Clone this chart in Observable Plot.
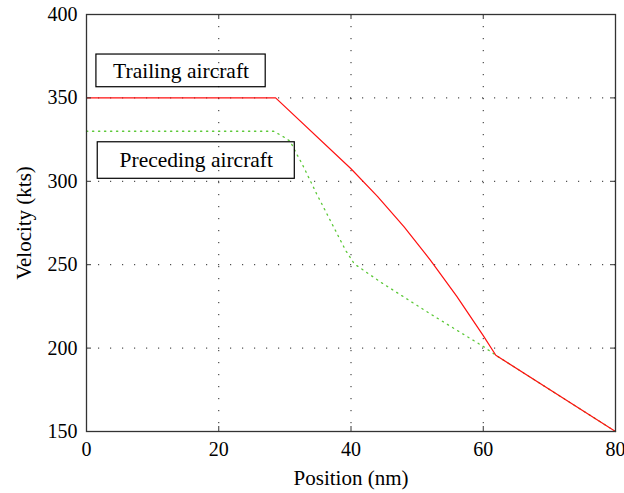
<!DOCTYPE html>
<html>
<head>
<meta charset="utf-8">
<script src="https://cdn.jsdelivr.net/npm/d3@7"></script>
<script src="https://cdn.jsdelivr.net/npm/@observablehq/plot@0.6"></script>
<style>
  html, body { margin: 0; padding: 0; background: #fff; }
</style>
</head>
<body>
<div id="chart"></div>
<script>
// Tick values
const xTicks = [0, 20, 40, 60, 80];
const yTicks = [150, 200, 250, 300, 350, 400];

// Trailing aircraft (red solid)
const trailingPos = [0, 28.6, 40, 44, 48, 52, 56, 60, 61.9, 80];
const trailingVel = [350, 350, 307.5, 291, 272.8, 252.8, 231, 207.5, 195.7, 150];

// Preceding aircraft (green dotted)
const precedingPos = [0, 28.3, 29.5, 30.8, 31.7, 32.6, 34.8, 37, 39.2, 40.5, 44.5, 51.4, 58.1, 60, 61.9, 80];
const precedingVel = [330, 330, 327.4, 324, 317, 310.5, 292.5, 275.5, 258.5, 250.5, 239.5, 222, 205.6, 201, 195.7, 150];

// Text annotations (boxed), in data coordinates
const annLabels = ["Trailing aircraft", "Preceding aircraft"];
const annX1 = [1.5, 1.7];
const annX2 = [27.1, 31.5];
const annY1 = [356.4, 301.5];
const annY2 = [376.0, 323.4];

const trailing = trailingPos.map((x, i) => ({x, v: trailingVel[i]}));
const preceding = precedingPos.map((x, i) => ({x, v: precedingVel[i]}));
const annotations = annLabels.map((t, i) => ({t, x1: annX1[i], x2: annX2[i], y1: annY1[i], y2: annY2[i]}));

const W = 624, H = 493, ML = 86, MR = 9, MT = 14, MB = 62;
const PW = W - ML - MR, PH = H - MT - MB;
const tick = 5;

const chart = Plot.plot({
  width: W, height: H,
  marginLeft: ML, marginRight: MR, marginTop: MT, marginBottom: MB,
  style: "font-family:'Liberation Serif', serif; font-size:20px; color:#000; background:#fff;",
  x: {domain: [0, 80]},
  y: {domain: [150, 400]},
  marks: [
    Plot.gridX(xTicks, {stroke: "#000", strokeOpacity: 0.85, strokeDasharray: "1.2,10.8", strokeWidth: 1}),
    Plot.gridY(yTicks, {stroke: "#000", strokeOpacity: 0.85, strokeDasharray: "1.2,10.8", strokeWidth: 1}),
    Plot.line(preceding, {x: "x", y: "v", stroke: "#5cc838", strokeWidth: 1.3, strokeDasharray: "1.3,4.7"}),
    Plot.line(trailing, {x: "x", y: "v", stroke: "#ff1010", strokeWidth: 1.2}),
    Plot.tickX(xTicks, {x: d => d, insetTop: PH - tick, stroke: "#333"}),
    Plot.tickX(xTicks, {x: d => d, insetBottom: PH - tick, stroke: "#333"}),
    Plot.tickY(yTicks, {y: d => d, insetRight: PW - tick, stroke: "#333"}),
    Plot.tickY(yTicks, {y: d => d, insetLeft: PW - tick, stroke: "#333"}),
    Plot.frame({stroke: "#333", strokeWidth: 1.3}),
    Plot.axisX(xTicks, {tickSize: 0, tickPadding: 10, label: null, fontSize: 20}),
    Plot.axisX({ticks: [], label: "Position (nm)", labelAnchor: "center", labelArrow: "none", labelOffset: 53, fontSize: 21}),
    Plot.axisY(yTicks, {tickSize: 0, tickPadding: 9, label: null, fontSize: 20}),
    Plot.axisY({ticks: [], label: "Velocity (kts)", labelAnchor: "center", labelArrow: "none", labelOffset: 70, fontSize: 21}),
    Plot.rect(annotations, {x1: "x1", x2: "x2", y1: "y1", y2: "y2", fill: "none", stroke: "#000", strokeWidth: 1.2}),
    Plot.text(annotations, {x: d => (d.x1 + d.x2) / 2, y: d => (d.y1 + d.y2) / 2, text: "t", fontSize: 21.5, fill: "#000"})
  ]
});
document.getElementById("chart").appendChild(chart);
</script>
</body>
</html>
